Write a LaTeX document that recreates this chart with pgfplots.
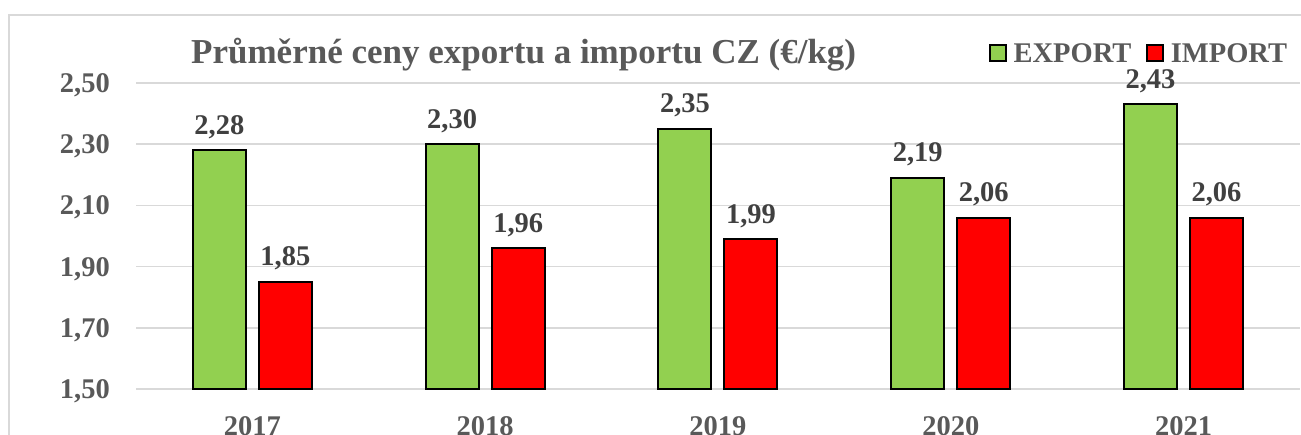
\documentclass[border=0pt]{standalone}
\usepackage{pgfplots}
\pgfplotsset{compat=1.18}
\usepackage{fontspec}
\setmainfont{Liberation Serif}
\definecolor{exg}{HTML}{92D050}
\definecolor{imr}{HTML}{FF0000}
\definecolor{tgray}{HTML}{595959}
\definecolor{dgray}{HTML}{404040}
\definecolor{ggray}{HTML}{D9D9D9}
\begin{document}
\begin{tikzpicture}[x=1pt,y=1pt]
\useasboundingbox (0,0) rectangle (1301,434);
\draw[color=ggray, line width=1.5pt] (9,-20) -- (9,419) -- (1330,419);
\begin{axis}[
  at={(136pt,45pt)}, anchor=south west,
  scale only axis, width=1164pt, height=306pt,
  xmin=-0.5, xmax=4.5, ymin=1.5, ymax=2.5,
  xtick={0,1,2,3,4}, xticklabels={2017,2018,2019,2020,2021},
  ytick={1.5,1.7,1.9,2.1,2.3,2.5},
  ymajorgrids, grid style={draw=ggray, line width=1.5pt},
  axis line style={draw=none}, major tick length=0pt,
  ybar=13pt, bar width=53pt,
  clip=false,
  /pgf/number format/assume math mode=true,
  tick label style={font=\fontsize{28.5}{30}\selectfont\bfseries, text=tgray},
  yticklabel style={/pgf/number format/.cd, use comma, fixed, fixed zerofill, precision=2, /tikz/.cd, anchor=base east, inner sep=0pt, xshift=-26pt, yshift=-9.5pt},
  xticklabel style={anchor=base, inner sep=0pt, yshift=-46pt},
  nodes near coords,
  nodes near coords style={font=\fontsize{28.5}{30}\selectfont\bfseries, text=dgray, anchor=base, inner sep=0pt, yshift=16pt, /pgf/number format/.cd, use comma, fixed, fixed zerofill, precision=2},
  legend columns=2,
  legend style={at={(0.7328,1.098)}, anchor=west, draw=none, fill=none, inner sep=0pt,
    font=\fontsize{28.5}{30}\selectfont\bfseries, text=tgray,
    nodes={inner sep=0pt, text depth=0pt},
    /tikz/every odd column/.append style={column sep=7pt},
    /tikz/every even column/.append style={column sep=15pt}},
  legend image code/.code={\draw[#1, line width=1.5pt] (0pt,-8pt) rectangle (16pt,8pt);},
]
\addplot[fill=exg, draw=black, line width=2pt] coordinates {(0,2.28) (1,2.30) (2,2.35) (3,2.19) (4,2.43)};
\addplot[fill=imr, draw=black, line width=2pt] coordinates {(0,1.85) (1,1.96) (2,1.99) (3,2.06) (4,2.06)};
\legend{EXPORT, IMPORT}
\end{axis}
\node[anchor=base west, inner sep=0pt, text=tgray, font=\fontsize{35}{37}\selectfont\bfseries] at (191,370) {Průměrné ceny exportu a importu CZ (€/kg)};
\end{tikzpicture}
\end{document}
